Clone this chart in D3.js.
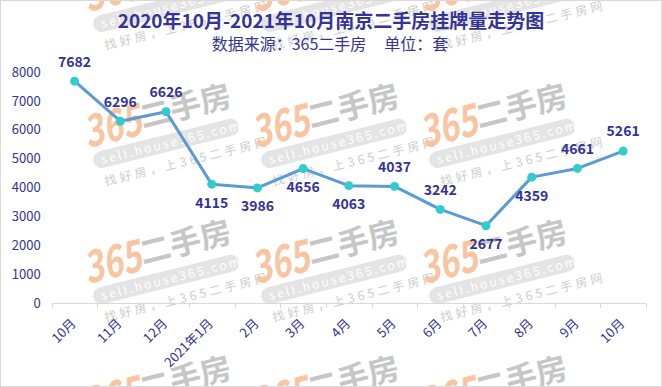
<!DOCTYPE html>
<html>
<head>
<meta charset="utf-8">
<script src="https://cdn.jsdelivr.net/npm/d3@7"></script>
<style>
  body { margin: 0; background: #fff; }
  svg { display: block; font-family: "Noto Sans CJK SC", "Noto Sans", sans-serif; }
</style>
</head>
<body>
<div id="chart"></div>
<script>
// months on the x axis
var months = ["10月", "11月", "12月", "2021年1月", "2月", "3月", "4月", "5月", "6月", "7月", "8月", "9月", "10月"];
// listing counts (套)
var listings = [7682, 6296, 6626, 4115, 3986, 4656, 4063, 4037, 3242, 2677, 4359, 4661, 5261];
// where each data label sits relative to its point
var labelPos = ["up", "up", "up", "down", "down", "down", "down", "up", "up", "down", "down", "up", "up"];
var yTicks = [0, 1000, 2000, 3000, 4000, 5000, 6000, 7000, 8000];

var W = 662, H = 387;
var navy = "#33339a";

var svg = d3.select("#chart").append("svg")
    .attr("width", W)
    .attr("height", H);

svg.append("defs").append("clipPath").attr("id", "frame")
    .append("rect").attr("x", 1).attr("y", 1).attr("width", W - 2).attr("height", H - 2);

svg.append("rect")
    .attr("x", 0.5).attr("y", 0.5)
    .attr("width", W - 1).attr("height", H - 1)
    .attr("fill", "#fff")
    .attr("stroke", "#d9d9d9");

// watermark tiles (365二手房 logo)
var wm = svg.append("g").attr("clip-path", "url(#frame)");
var tiles = [];
[12, 148, 284, 420].forEach(function(ty) {
    [88, 256, 424].forEach(function(tx) { tiles.push([tx, ty]); });
});
tiles.forEach(function(t) {
    var g = wm.append("g").attr("transform", "translate(" + t[0] + "," + t[1] + ") rotate(-14)");
    g.append("text").attr("x", 0).attr("y", 0)
        .attr("font-size", 44).attr("font-weight", "bold").attr("font-style", "italic")
        .attr("textLength", 58).attr("lengthAdjust", "spacingAndGlyphs")
        .attr("fill", "#f9c4a0").text("365");
    g.append("text").attr("x", 58).attr("y", -6)
        .attr("font-size", 31).attr("font-weight", "bold")
        .attr("fill", "#c6c6c6").text("二手房");
    g.append("rect").attr("x", 2).attr("y", 6).attr("width", 150).attr("height", 17).attr("rx", 8.5)
        .attr("fill", "#e4e4e4");
    g.append("text").attr("x", 10).attr("y", 19)
        .attr("font-size", 12).attr("fill", "#fff").attr("letter-spacing", 2.4)
        .text("sell.house365.com");
    g.append("text").attr("x", 8).attr("y", 41)
        .attr("font-size", 12).attr("fill", "#cdcdcd").attr("letter-spacing", 3.5)
        .text("找好房，上365二手房网");
});

// titles
svg.append("text")
    .attr("x", 331).attr("y", 28)
    .attr("text-anchor", "middle")
    .attr("font-size", 19).attr("font-weight", "bold")
    .attr("fill", navy)
    .text("2020年10月-2021年10月南京二手房挂牌量走势图");
svg.append("text")
    .attr("x", 330).attr("y", 50)
    .attr("text-anchor", "middle")
    .attr("font-size", 16)
    .attr("fill", navy)
    .style("white-space", "pre")
    .text("数据来源：365二手房     单位：套");

var x = d3.scaleBand().domain(d3.range(months.length)).range([51.7, 646]);
var y = d3.scaleLinear().domain([0, 8000]).range([303, 72]);

// y axis (labels only)
var yAxis = svg.append("g")
    .attr("transform", "translate(51.7,0)")
    .call(d3.axisLeft(y).tickValues(yTicks).tickSize(0).tickPadding(11).tickFormat(d3.format("d")));
yAxis.select(".domain").remove();
yAxis.selectAll("text")
    .attr("font-size", 13)
    .attr("font-family", "'Noto Sans CJK SC', sans-serif")
    .attr("fill", navy);

// x axis line + boundary ticks
var xg = svg.append("g");
xg.append("line")
    .attr("x1", x.range()[0]).attr("x2", x.range()[1])
    .attr("y1", 303.5).attr("y2", 303.5)
    .attr("stroke", "#d9d9d9");
var bounds = d3.range(months.length).map(function(i) { return x(i); }).concat([x.range()[1]]);
xg.selectAll("line.tk").data(bounds).enter().append("line")
    .attr("class", "tk")
    .attr("x1", function(d) { return Math.round(d) + 0.5; })
    .attr("x2", function(d) { return Math.round(d) + 0.5; })
    .attr("y1", 303.5).attr("y2", 308)
    .attr("stroke", "#d9d9d9");
xg.selectAll("text").data(months).enter().append("text")
    .attr("transform", function(d, i) {
        return "translate(" + (x(i) + x.bandwidth() / 2 - 1) + ",321) rotate(-45)";
    })
    .attr("text-anchor", "end")
    .attr("dy", "0.35em")
    .attr("font-size", 13)
    .attr("fill", navy)
    .text(function(d) { return d; });

// line
var line = d3.line()
    .x(function(d, i) { return x(i) + x.bandwidth() / 2; })
    .y(function(d) { return y(d); });

svg.append("path")
    .datum(listings)
    .attr("fill", "none")
    .attr("stroke", "#5b9bd5")
    .attr("stroke-width", 3)
    .attr("stroke-linejoin", "round")
    .attr("d", line);

svg.selectAll("circle.pt").data(listings).enter().append("circle")
    .attr("class", "pt")
    .attr("cx", function(d, i) { return x(i) + x.bandwidth() / 2; })
    .attr("cy", function(d) { return y(d); })
    .attr("r", 4.5)
    .attr("fill", "#33cccc");

svg.selectAll("text.lbl").data(listings).enter().append("text")
    .attr("class", "lbl")
    .attr("x", function(d, i) { return x(i) + x.bandwidth() / 2; })
    .attr("y", function(d, i) { return y(d) + (labelPos[i] === "up" ? -19.5 : 18.5); })
    .attr("dy", "0.35em")
    .attr("text-anchor", "middle")
    .attr("font-size", 14)
    .attr("font-weight", "bold")
    .attr("fill", navy)
    .text(function(d) { return d; });
</script>
</body>
</html>
